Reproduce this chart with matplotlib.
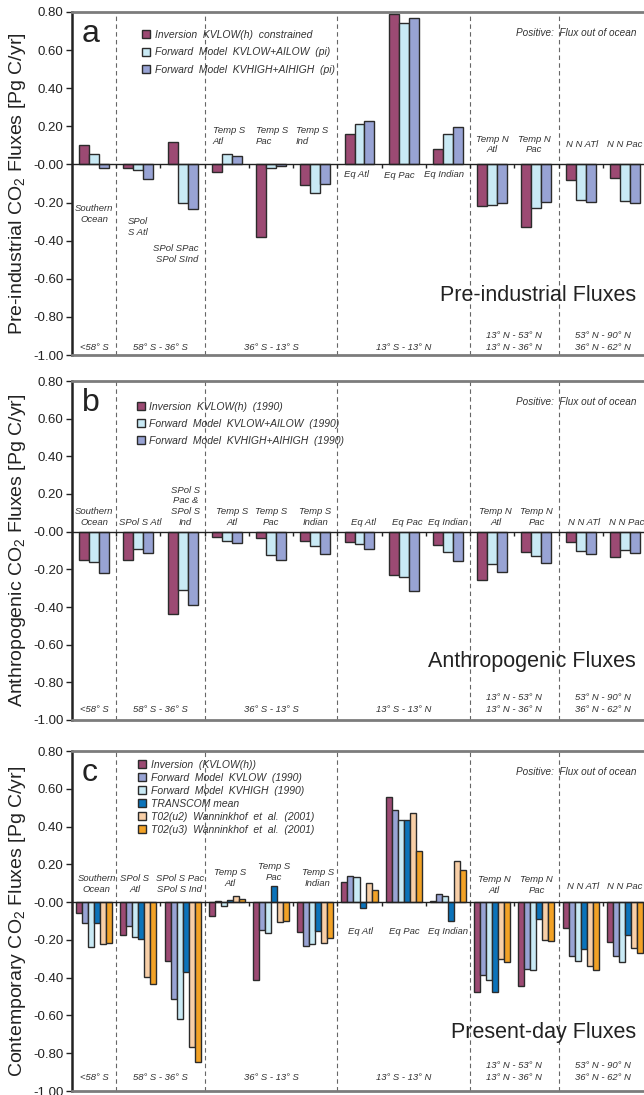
import matplotlib
matplotlib.use("Agg")
import matplotlib.pyplot as plt
import numpy as np
from matplotlib.ticker import FormatStrFormatter

plt.rcParams['font.family'] = ['Liberation Sans', 'DejaVu Sans']
plt.rcParams['axes.unicode_minus'] = False
plt.rcParams['mathtext.default'] = 'regular'

# ---- data (Pg C/yr, positive = flux out of ocean) ----
categories = ["Southern Ocean", "SPol S Atl", "SPol S Pac/Ind", "Temp S Atl", "Temp S Pac",
              "Temp S Ind", "Eq Atl", "Eq Pac", "Eq Indian", "Temp N Atl", "Temp N Pac",
              "N N Atl", "N N Pac"]

pi_inv = [0.10, -0.02, 0.12, -0.04, -0.38, -0.11, 0.16, 0.79, 0.08, -0.22, -0.33, -0.08, -0.07]
pi_low = [0.055, -0.03, -0.20, 0.056, -0.02, -0.15, 0.21, 0.74, 0.16, -0.215, -0.23, -0.185, -0.19]
pi_high = [-0.02, -0.074, -0.233, 0.044, -0.01, -0.10, 0.23, 0.767, 0.196, -0.20, -0.196, -0.196, -0.20]

ant_inv = [-0.153, -0.153, -0.435, -0.03, -0.034, -0.049, -0.053, -0.229, -0.072, -0.256, -0.109, -0.053, -0.136]
ant_low = [-0.162, -0.093, -0.31, -0.049, -0.123, -0.078, -0.065, -0.242, -0.109, -0.173, -0.127, -0.102, -0.097]
ant_high = [-0.22, -0.113, -0.39, -0.058, -0.153, -0.118, -0.093, -0.317, -0.157, -0.213, -0.168, -0.118, -0.115]

pd_inv = [-0.055, -0.175, -0.312, -0.074, -0.413, -0.16, 0.104, 0.556, 0.007, -0.474, -0.444, -0.136, -0.21]
pd_kvlow = [-0.108, -0.127, -0.513, 0.005, -0.148, -0.231, 0.138, 0.489, 0.042, -0.388, -0.356, -0.287, -0.287]
pd_kvhigh = [-0.24, -0.187, -0.619, -0.021, -0.162, -0.224, 0.131, 0.437, 0.03, -0.414, -0.36, -0.312, -0.318]
pd_transcom = [-0.108, -0.193, -0.369, 0.011, 0.085, -0.153, -0.03, 0.437, -0.10, -0.474, -0.092, -0.25, -0.175]
pd_u2 = [-0.222, -0.395, -0.768, 0.035, -0.106, -0.217, 0.102, 0.473, 0.22, -0.30, -0.198, -0.339, -0.242]
pd_u3 = [-0.217, -0.436, -0.847, 0.016, -0.102, -0.192, 0.062, 0.272, 0.171, -0.317, -0.208, -0.362, -0.268]

legend_a = ["Inversion  KVLOW(h)  constrained", "Forward  Model  KVLOW+AILOW  (pi)",
            "Forward  Model  KVHIGH+AIHIGH  (pi)"]
legend_b = ["Inversion  KVLOW(h)  (1990)", "Forward  Model  KVLOW+AILOW  (1990)",
            "Forward  Model  KVHIGH+AIHIGH  (1990)"]
legend_c = ["Inversion  (KVLOW(h))", "Forward  Model  KVLOW  (1990)", "Forward  Model  KVHIGH  (1990)",
            "TRANSCOM mean", "T02(u2)  Wanninkhof  et  al.  (2001)", "T02(u3)  Wanninkhof  et  al.  (2001)"]

region_bounds = [0.5, 2.5, 5.5, 8.5, 10.5]
region_centers = [0, 1.5, 4, 7, 9.5, 11.5]
region_labels = ["<58\u00b0 S", "58\u00b0 S - 36\u00b0 S", "36\u00b0 S - 13\u00b0 S", "13\u00b0 S - 13\u00b0 N",
                 "13\u00b0 N - 53\u00b0 N\n13\u00b0 N - 36\u00b0 N", "53\u00b0 N - 90\u00b0 N\n36\u00b0 N - 62\u00b0 N"]

# category label placements per panel: (text, x, y, ha, va)
labels_a = [("Southern\nOcean", 0.0, -0.26, 'center', 'center'),
            ("SPol\nS Atl", 0.76, -0.33, 'left', 'center'),
            ("SPol SPac\nSPol SInd", 2.36, -0.47, 'right', 'center'),
            ("Temp S\nAtl", 2.68, 0.15, 'left', 'center'),
            ("Temp S\nPac", 3.65, 0.15, 'left', 'center'),
            ("Temp S\nInd", 4.56, 0.15, 'left', 'center'),
            ("Eq Atl", 5.94, -0.053, 'center', 'center'),
            ("Eq Pac", 6.91, -0.06, 'center', 'center'),
            ("Eq Indian", 7.9, -0.053, 'center', 'center'),
            ("Temp N\nAtl", 9.0, 0.105, 'center', 'center'),
            ("Temp N\nPac", 9.95, 0.105, 'center', 'center'),
            ("N N ATl", 11.03, 0.105, 'center', 'center'),
            ("N N Pac", 12.0, 0.105, 'center', 'center')]

labels_b = [("Southern\nOcean", 0.0, 0.025, 'center', 'bottom'),
            ("SPol S Atl", 1.05, 0.025, 'center', 'bottom'),
            ("SPol S\nPac &\nSPol S\nInd", 2.07, 0.025, 'center', 'bottom'),
            ("Temp S\nAtl", 3.11, 0.025, 'center', 'bottom'),
            ("Temp S\nPac", 4.0, 0.025, 'center', 'bottom'),
            ("Temp S\nIndian", 5.0, 0.025, 'center', 'bottom'),
            ("Eq Atl", 6.1, 0.025, 'center', 'bottom'),
            ("Eq Pac", 7.09, 0.025, 'center', 'bottom'),
            ("Eq Indian", 8.0, 0.025, 'center', 'bottom'),
            ("Temp N\nAtl", 9.08, 0.025, 'center', 'bottom'),
            ("Temp N\nPac", 10.0, 0.025, 'center', 'bottom'),
            ("N N ATl", 11.07, 0.025, 'center', 'bottom'),
            ("N N Pac", 12.05, 0.025, 'center', 'bottom')]

labels_c = [("Southern\nOcean", 0.06, 0.045, 'center', 'bottom'),
            ("SPol S\nAtl", 0.92, 0.045, 'center', 'bottom'),
            ("SPol S Pac\nSPol S Ind", 1.94, 0.045, 'center', 'bottom'),
            ("Temp S\nAtl", 3.07, 0.074, 'center', 'bottom'),
            ("Temp S\nPac", 4.06, 0.106, 'center', 'bottom'),
            ("Temp S\nIndian", 5.06, 0.074, 'center', 'bottom'),
            ("Eq Atl", 6.03, -0.153, 'center', 'center'),
            ("Eq Pac", 7.02, -0.153, 'center', 'center'),
            ("Eq Indian", 8.0, -0.153, 'center', 'center'),
            ("Temp N\nAtl", 9.04, 0.037, 'center', 'bottom'),
            ("Temp N\nPac", 10.01, 0.037, 'center', 'bottom'),
            ("N N ATl", 11.05, 0.085, 'center', 'center'),
            ("N N Pac", 12.0, 0.085, 'center', 'center')]

C_INV = '#9c4a73'
C_LOW = '#c9eaf5'
C_HIGH = '#98a3d4'
C_TRANS = '#0b73ba'
C_U2 = '#f8cfa7'
C_U3 = '#f2a226'
EDGE = '#2b2b2b'
TXT = '#333333'
GREY = '#7c7c7c'

x = np.arange(len(categories))

fig = plt.figure(figsize=(6.44, 10.95), dpi=100)
W, H = 644.0, 1095.0
left_px, right_px = 72, 647
panels_px = [(12, 355), (381, 720), (751, 1091)]
axes = []
for top, bot in panels_px:
    axes.append(fig.add_axes([left_px / W, 1 - bot / H, (right_px - left_px) / W, (bot - top) / H]))


def setup(ax):
    ax.set_xlim(-0.5, 12.5)
    ax.set_ylim(-1.0, 0.8)
    ax.spines['right'].set_visible(False)
    ax.spines['top'].set_color(GREY)
    ax.spines['top'].set_linewidth(2)
    ax.spines['left'].set_color('#222222')
    ax.spines['left'].set_linewidth(1.8)
    ax.spines['bottom'].set_position(('data', 0))
    ax.spines['bottom'].set_color('#222222')
    ax.spines['bottom'].set_linewidth(1)
    ax.set_xticks(np.arange(0.5, 12.5, 1.0))
    ax.set_xticklabels([])
    ax.tick_params(axis='x', length=3, width=1, color='#222222', direction='out')
    ax.set_yticks(np.round(np.arange(-1.0, 0.81, 0.2), 2))
    ax.yaxis.set_major_formatter(FormatStrFormatter('%.2f'))
    ax.tick_params(axis='y', length=4, width=1, labelsize=9.5, pad=2, colors='#222222')
    ax.axhline(-1.0, color=GREY, lw=2, clip_on=False, zorder=3)
    for b in region_bounds:
        ax.axvline(b, color='#666666', lw=0.8, ls=(0, (4, 3)), zorder=1)


def draw_bars(ax, series, colors, width):
    n = len(series)
    handles = []
    for k, (vals, col) in enumerate(zip(series, colors)):
        off = (k - (n - 1) / 2) * width
        h = ax.bar(x + off, vals, width, color=col, edgecolor=EDGE, linewidth=1, zorder=2)
        handles.append(h)
    return handles


def annotate(ax, labels, letter, big, bottom_y, legend_labels, handles, leg_xy, leg_spacing):
    for txt, lx, ly, ha, va in labels:
        ax.text(lx, ly, txt, ha=ha, va=va, ma=ha, fontsize=6.8, style='italic', color=TXT,
                linespacing=1.25, zorder=4)
    for cx, rl in zip(region_centers, region_labels):
        ax.text(cx, bottom_y, rl, ha='center', va='bottom', fontsize=6.8, style='italic',
                color=TXT, linespacing=1.4)
    ax.text(12.27, 0.69, "Positive:  Flux out of ocean", ha='right', va='center',
            fontsize=7.2, style='italic', color=TXT)
    ax.text(12.25, -0.69, big, ha='right', va='center', fontsize=15.5, color='#222222')
    ax.text(0.017, 0.912, letter, transform=ax.transAxes, fontsize=23, va='baseline',
            ha='left', color='#222222')
    leg = ax.legend(handles, legend_labels, loc='upper left', bbox_to_anchor=leg_xy,
                    frameon=False, prop={'size': 7.5, 'style': 'italic'}, handlelength=0.8,
                    handleheight=0.8, handletextpad=0.4, labelspacing=leg_spacing,
                    borderpad=0, borderaxespad=0)
    for t in leg.get_texts():
        t.set_color(TXT)


ylabels = ["Pre-industrial CO$_2$ Fluxes [Pg C/yr]", "Anthropogenic CO$_2$ Fluxes [Pg C/yr]",
           "Contemporary CO$_2$ Fluxes [Pg C/yr]"]

# panel a
ax = axes[0]
setup(ax)
h = draw_bars(ax, [pi_inv, pi_low, pi_high], [C_INV, C_LOW, C_HIGH], 0.226)
annotate(ax, labels_a, "a", "Pre-industrial Fluxes", -0.985, legend_a, h, (0.122, 0.948), 0.72)

# panel b
ax = axes[1]
setup(ax)
h = draw_bars(ax, [ant_inv, ant_low, ant_high], [C_INV, C_LOW, C_HIGH], 0.226)
annotate(ax, labels_b, "b", "Anthropogenic Fluxes", -0.968, legend_b, h, (0.113, 0.938), 0.66)

# panel c
ax = axes[2]
setup(ax)
h = draw_bars(ax, [pd_inv, pd_kvlow, pd_kvhigh, pd_transcom, pd_u2, pd_u3],
              [C_INV, C_HIGH, C_LOW, C_TRANS, C_U2, C_U3], 0.136)
annotate(ax, labels_c, "c", "Present-day Fluxes", -0.952, legend_c, h, (0.115, 0.9735), 0.28)

for (top, bot), yl in zip(panels_px, ylabels):
    fig.text(18 / W, 1 - (top + bot) / 2 / H, yl, rotation=90, ha='center', va='center',
             fontsize=14, color='#222222')

fig.savefig("out.png", dpi=100)
